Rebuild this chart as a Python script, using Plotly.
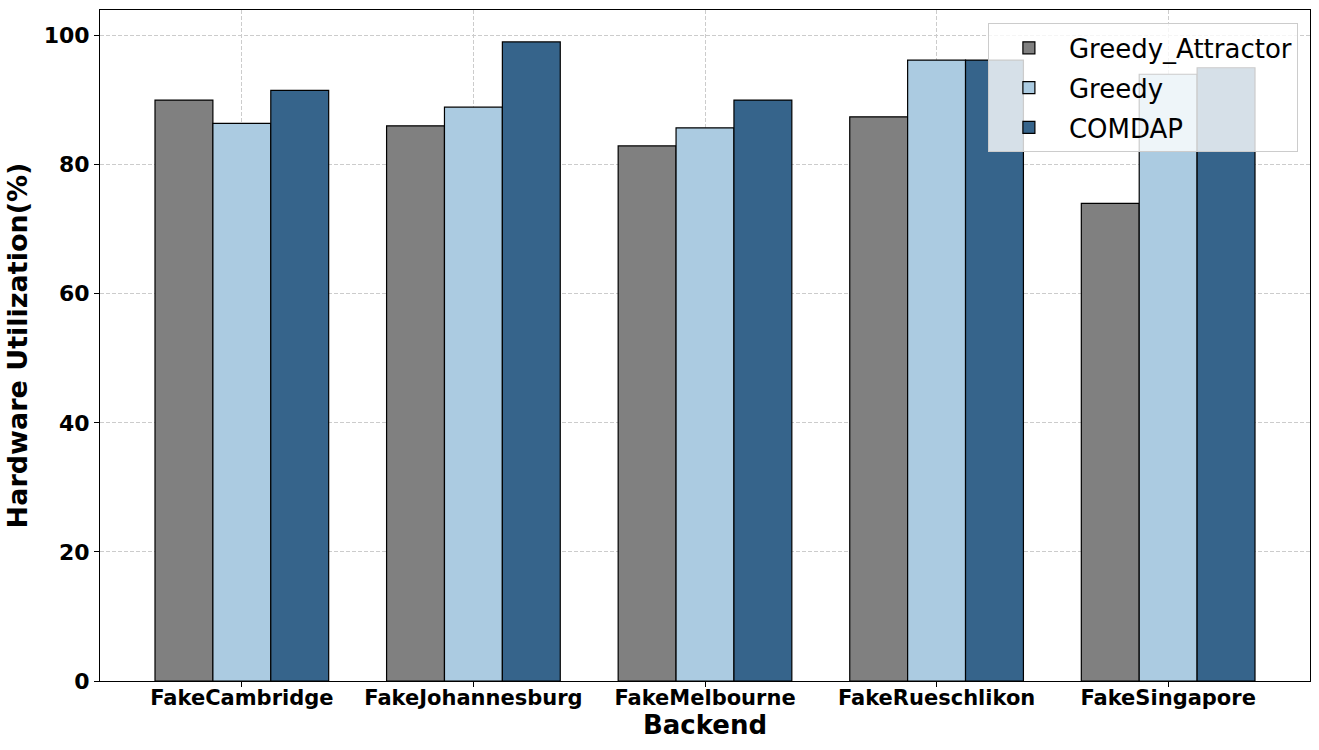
import plotly.graph_objects as go

backends = ["FakeCambridge", "FakeJohannesburg", "FakeMelbourne", "FakeRueschlikon", "FakeSingapore"]
greedy_attractor = [90.0, 86.0, 82.9, 87.4, 74.0]
greedy = [86.4, 88.9, 85.7, 96.2, 94.0]
comdap = [91.5, 99.0, 90.0, 96.2, 95.0]
series_names = ["Greedy_Attractor", "Greedy", "COMDAP"]
colors = ["#808080", "#abcbe1", "#36648b"]
y_ticks = [0, 20, 40, 60, 80, 100]

fig = go.Figure()
for name, vals, col in zip(series_names, [greedy_attractor, greedy, comdap], colors):
    fig.add_trace(go.Bar(
        x=backends, y=vals, name=name, legendgroup=name,
        marker=dict(color=col, line=dict(color="black", width=1.2)),
    ))

font_family = "DejaVu Sans"
fig.update_layout(
    width=1319, height=750,
    barmode="group", bargap=0.25, bargroupgap=0,
    plot_bgcolor="white", paper_bgcolor="white",
    margin=dict(l=100, r=9, t=10, b=69, autoexpand=False),
    font=dict(family=font_family, color="black"),
    legend=dict(
        x=0.99, y=0.98, xanchor="right", yanchor="top",
        bgcolor="rgba(255,255,255,0.8)", bordercolor="#cccccc", borderwidth=1,
        font=dict(size=26, family=font_family, color="black"),
        tracegroupgap=3, itemwidth=70,
    ),
    xaxis=dict(
        range=[-0.6125, 4.6125], automargin=False,
        title=dict(text="<b>Backend</b>", font=dict(size=26), standoff=0),
        tickfont=dict(size=21, family=font_family, weight="bold"),
        ticklabelstandoff=-7,
        showgrid=True, gridcolor="#cccccc", griddash="4px,2px", gridwidth=1,
        showline=True, linecolor="black", linewidth=1, mirror=True,
        ticks="outside", ticklen=5, tickcolor="black",
    ),
    yaxis=dict(
        range=[0, 103.95], automargin=False,
        tickvals=y_ticks,
        title=dict(text="<b>Hardware Utilization(%)</b>", font=dict(size=27), standoff=8),
        tickfont=dict(size=22, family=font_family, weight="bold"),
        showgrid=True, gridcolor="#cccccc", griddash="4px,2px", gridwidth=1,
        zeroline=False,
        showline=True, linecolor="black", linewidth=1, mirror=True,
        ticks="outside", ticklen=5, tickcolor="black",
    ),
)

fig.write_html("out.html", config={"displayModeBar": False},
               post_script="document.body.style.margin='0';")
